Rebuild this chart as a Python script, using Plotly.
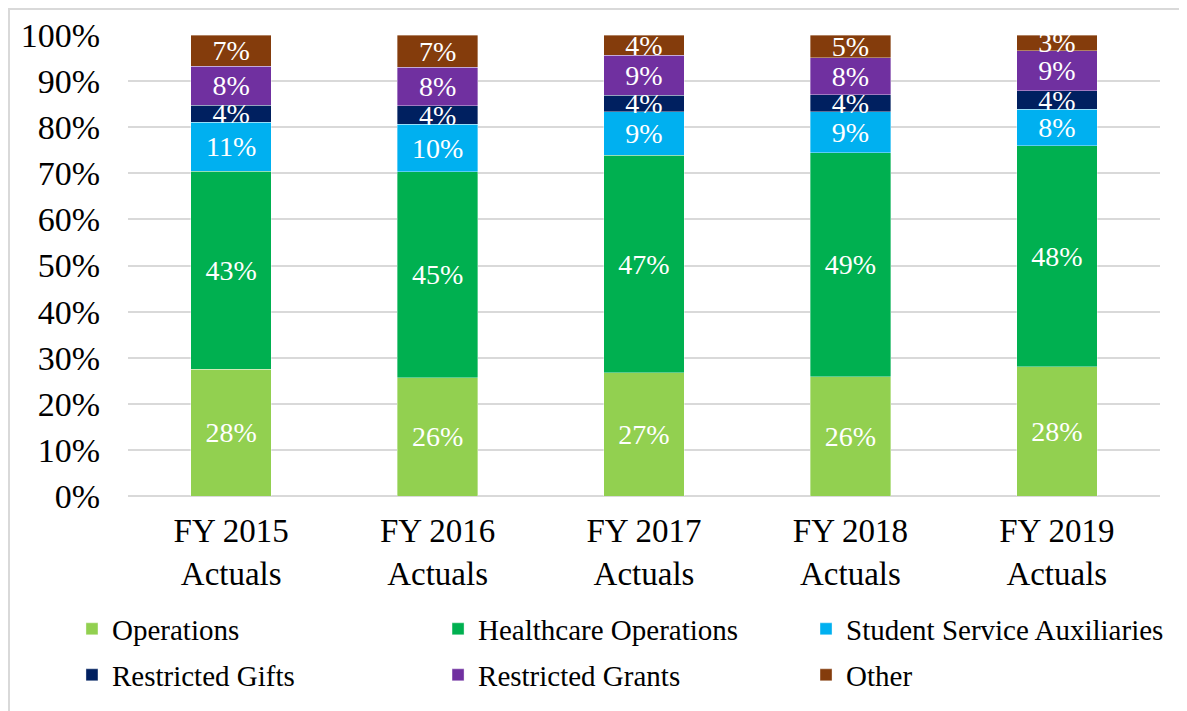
"""
Stacked 100% bar chart - revenue mix by fiscal year
"""

import plotly.graph_objects as go

# categories (x axis)
years = ["FY 2015<br>Actuals", "FY 2016<br>Actuals", "FY 2017<br>Actuals",
         "FY 2018<br>Actuals", "FY 2019<br>Actuals"]

# series values, percent of total
operations = [27.5, 25.6, 26.7, 25.9, 28.0]
healthcare_operations = [43.0, 44.7, 47.2, 48.6, 48.0]
student_service_auxiliaries = [10.6, 10.3, 9.4, 8.9, 7.9]
restricted_gifts = [3.7, 4.0, 3.6, 3.6, 4.0]
restricted_grants = [8.4, 8.4, 8.7, 8.1, 8.7]
other = [6.8, 7.0, 4.4, 4.9, 3.4]

y_ticks = [0, 10, 20, 30, 40, 50, 60, 70, 80, 90, 100]

series_names = ["Operations", "Healthcare Operations", "Student Service Auxiliaries",
                "Restricted Gifts", "Restricted Grants", "Other"]
series_values = [operations, healthcare_operations, student_service_auxiliaries,
                 restricted_gifts, restricted_grants, other]
series_colors = ["#92D050", "#00B050", "#00B0F0", "#002060", "#7030A0", "#843C0C"]

FONT = "Liberation Serif, Times New Roman, serif"

# legend grid: 3 columns x 2 rows, one legend per entry (container coords)
legend_cols = [0.0539, 0.3623, 0.6723]
legend_rows = [0.1266, 0.0619]

fig = go.Figure()
layout_legends = {}
for i, (name, vals, color) in enumerate(zip(series_names, series_values, series_colors)):
    leg_id = "legend" if i == 0 else f"legend{i + 1}"
    fig.add_trace(go.Bar(
        x=years,
        y=vals,
        name=name,
        legend=leg_id,
        marker=dict(color=color, line=dict(color="rgba(255,255,255,0.6)", width=0.6)),
        texttemplate="%{y:.0f}%",
        textposition="inside",
        insidetextanchor="middle",
        textangle=0,
        constraintext="none",
        textfont=dict(color="white", size=28, family=FONT),
        hovertemplate="%{x}<br>" + name + ": %{y:.1f}%<extra></extra>",
    ))
    layout_legends[leg_id] = dict(
        orientation="h",
        xref="container", yref="container",
        x=legend_cols[i % 3], xanchor="left",
        y=legend_rows[i // 3], yanchor="middle",
        font=dict(size=29, family=FONT, color="black"),
        itemwidth=30,
        bgcolor="rgba(0,0,0,0)",
    )

# outer chart frame
fig.add_shape(
    type="rect", xref="paper", yref="paper",
    x0=-0.1153, x1=1.1, y0=-0.6, y1=1.0564,
    line=dict(color="#d9d9d9", width=2), fillcolor="rgba(0,0,0,0)",
    layer="below",
)

fig.update_layout(
    barmode="stack",
    bargap=0.61,
    width=1187,
    height=711,
    margin=dict(l=120, r=35, t=27, b=223, autoexpand=False),
    paper_bgcolor="white",
    plot_bgcolor="white",
    font=dict(family=FONT, color="black"),
    showlegend=True,
    xaxis=dict(
        showgrid=False, showline=False, zeroline=False,
        ticklabelstandoff=12,
        tickfont=dict(size=33, family=FONT, color="black"),
    ),
    yaxis=dict(
        range=[0, 100],
        tickvals=y_ticks,
        ticktext=[f"{v}%" for v in y_ticks],
        showgrid=True, gridcolor="#d9d9d9", gridwidth=1.5,
        zeroline=True, zerolinecolor="#d9d9d9", zerolinewidth=1.5,
        showline=False,
        ticklabelstandoff=27,
        tickfont=dict(size=34, family=FONT, color="black"),
    ),
    **layout_legends,
)

fig.write_html("out.html")
